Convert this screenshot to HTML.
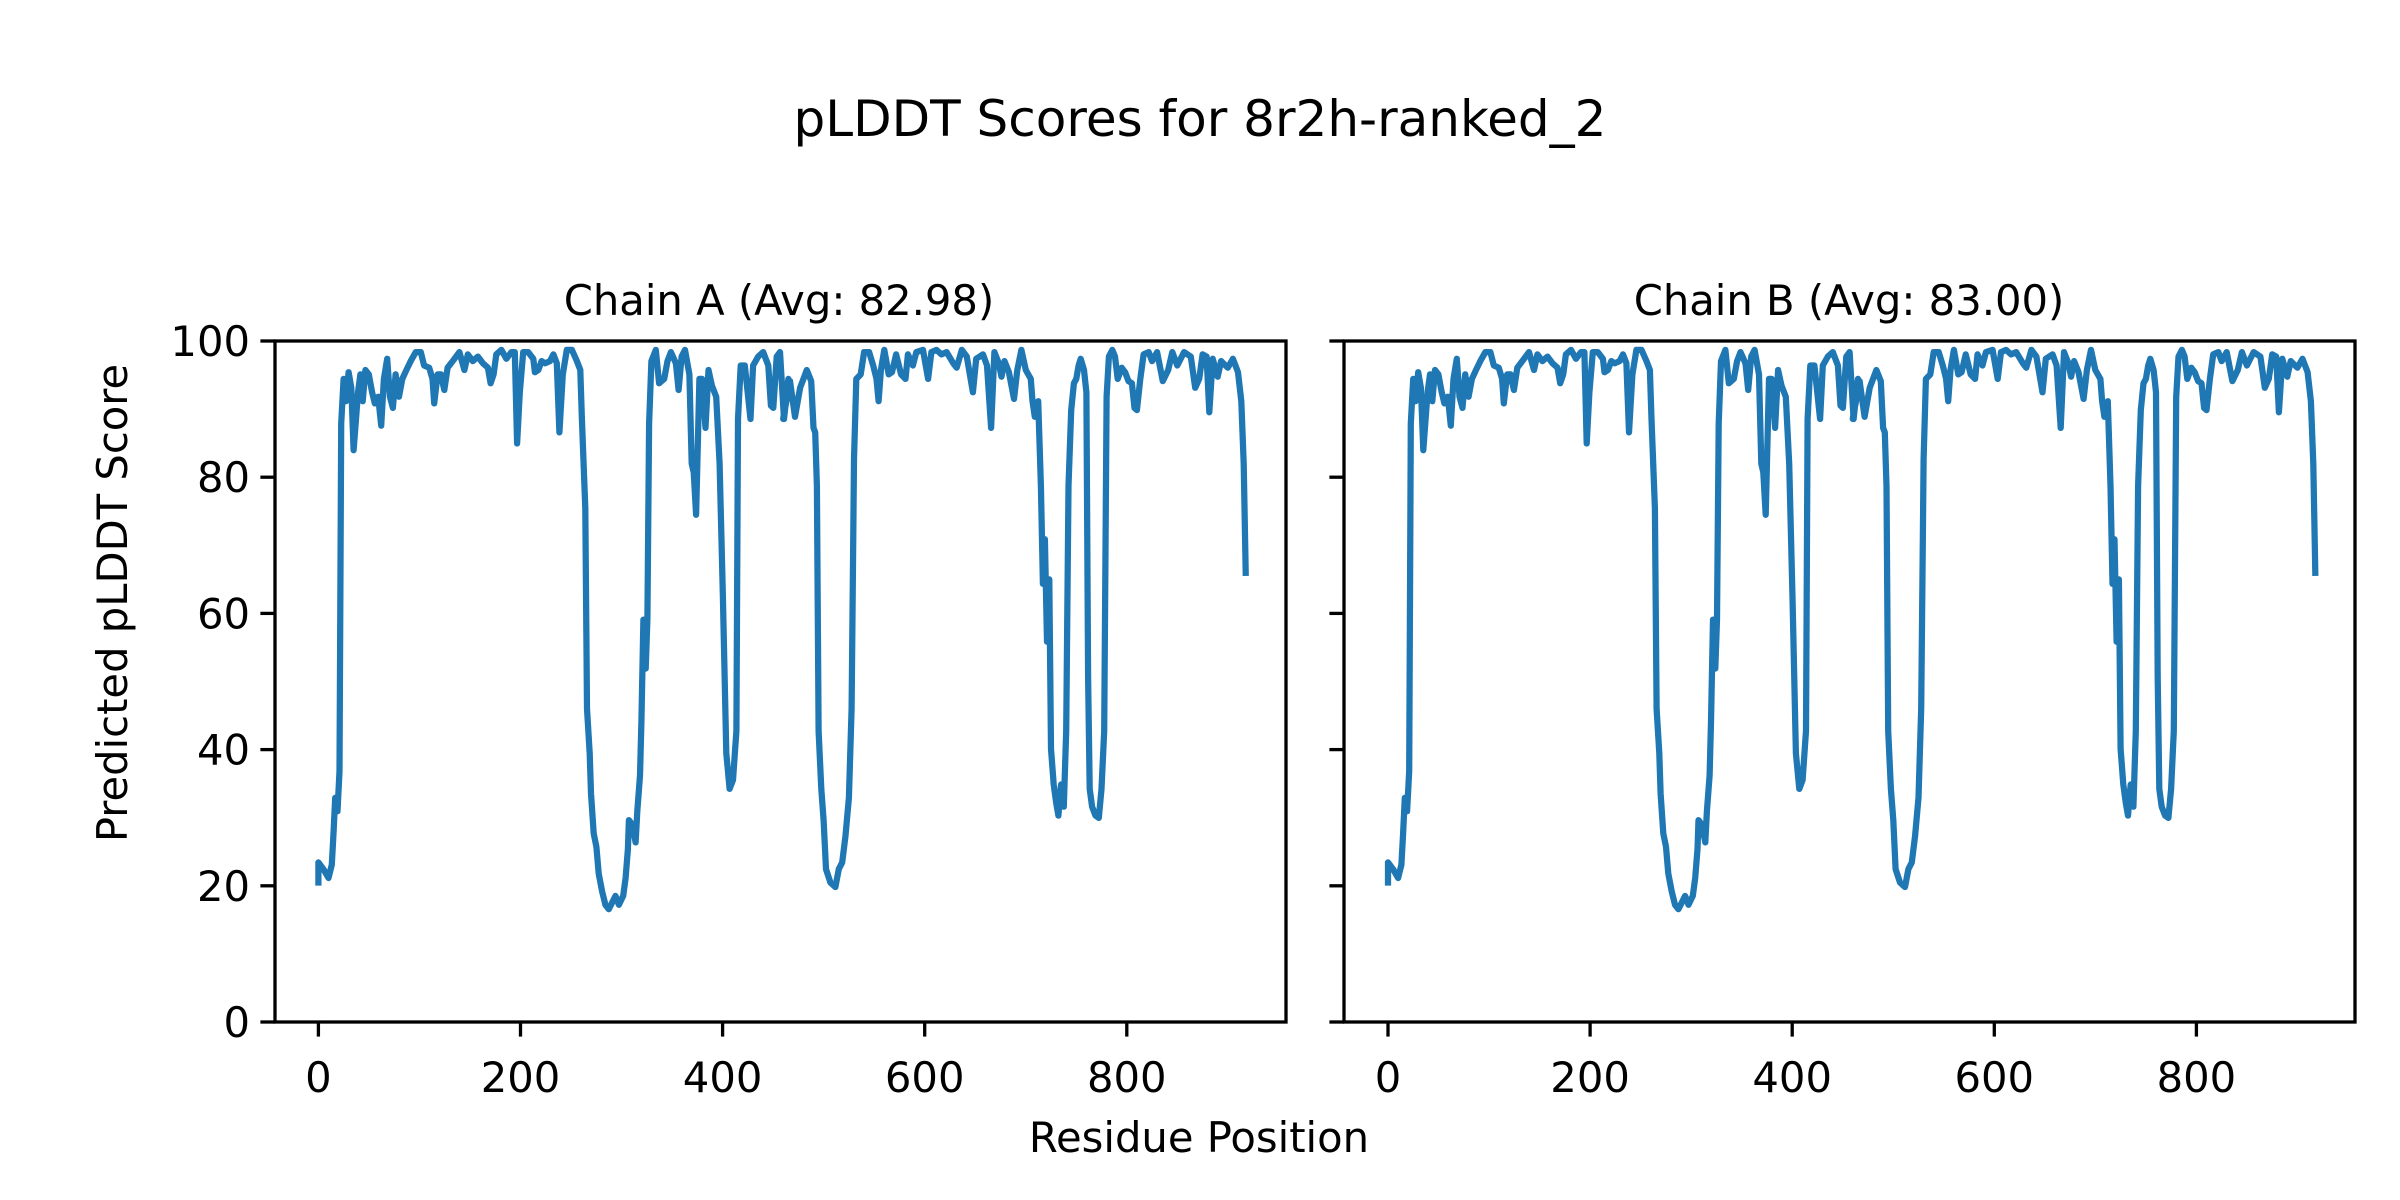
<!DOCTYPE html>
<html><head><meta charset="utf-8"><style>html,body{margin:0;padding:0;background:#fff}svg{display:block}</style></head>
<body>
<svg id="s" xmlns="http://www.w3.org/2000/svg" width="2400" height="1200" viewBox="0 0 2400 1200" font-family="DejaVu Sans, Liberation Sans, sans-serif">
<rect width="2400" height="1200" fill="#fff"/>
<text x="1200" y="136" font-size="50" text-anchor="middle">pLDDT Scores for 8r2h-ranked_2</text>
<text x="779" y="315" font-size="41.7" text-anchor="middle">Chain A (Avg: 82.98)</text>
<text x="1849" y="315" font-size="41.7" text-anchor="middle">Chain B (Avg: 83.00)</text>
<text x="1199" y="1152" font-size="41.7" text-anchor="middle">Residue Position</text>
<text transform="translate(127,603) rotate(-90)" font-size="41.7" text-anchor="middle">Predicted pLDDT Score</text>
<g id="g"></g>
</svg>
<script>
var z1=[[145,1240],[150,1195],[165,1210],[180,1230],[190,1200],[195,1130],[200,1050],[207,1080],[213,990],[218,210],[225,110],[232,160],[240,95],[248,130],[255,270],[262,200],[268,140],[275,100],[282,160],[290,90],[300,100],[310,140],[318,165],[328,150],[337,215],[345,110],[355,65],[363,150],[372,175],[380,100],[390,150],[400,110],[412,90],[425,70],[440,50],[455,50],[465,80],[480,85],[490,110],[495,165],[505,100],[515,100],[525,135],[535,85],[550,70],[570,50],[585,90],[595,55],[610,70],[625,60],[640,75],[655,85],[663,120],[672,100],[680,55],[695,45],[710,65],[725,50],[735,50],[742,255],[750,140],[760,50],[775,50],[790,65],[795,95],[805,90],[815,70],[825,75],[840,70],[850,55],[860,75],[868,230],[878,100],[890,45],[905,45],[920,70],[930,90],[935,200],[945,400],[950,850],[958,950],[962,1040],[970,1130],[978,1160],[985,1220],[995,1260],[1005,1290],[1015,1300],[1025,1285],[1035,1270],[1045,1290],[1058,1270],[1065,1230],[1072,1165],[1075,1100],[1085,1110],[1095,1150],[1100,1080],[1108,1000],[1112,880],[1118,650],[1125,760],[1130,650],[1135,210],[1142,70],[1155,45],[1165,120],[1180,110],[1190,70],[1200,50],[1215,75],[1223,135],[1232,60],[1242,45],[1255,100],[1262,300],[1268,320],[1275,415],[1285,110],[1293,110],[1303,220],[1312,90],[1322,125],[1335,150],[1345,300],[1355,600],[1365,950],[1375,1030],[1385,1010],[1395,900],[1400,200],[1408,80],[1420,80],[1437,200],[1445,80],[1460,60],[1475,50],[1490,80],[1498,170],[1505,175],[1515,60],[1525,50],[1537,200],[1550,110]];
var z2=[[5,200],[25,115],[40,195],[55,130],[75,90],[88,115],[95,220],[100,230],[105,350],[110,900],[118,1030],[125,1100],[132,1210],[145,1240],[160,1250],[170,1210],[180,1195],[190,1135],[200,1050],[208,850],[215,290],[222,110],[235,100],[245,50],[260,50],[272,80],[282,110],[288,160],[295,90],[305,45],[318,100],[328,95],[340,55],[355,100],[368,110],[375,55],[390,80],[400,50],[420,45],[435,110],[445,50],[460,45],[475,55],[490,50],[510,75],[520,85],[535,45],[550,60],[568,140],[578,65],[598,55],[610,80],[622,220],[632,50],[645,75],[653,105],[662,70],[675,95],[690,155],[700,90],[712,45],[725,90],[740,110],[745,160],[752,195],[762,160],[765,230],[770,350],[776,570],[782,470],[788,700],[795,560],[800,940],[808,1020],[815,1060],[822,1090],[830,1020],[838,1070],[845,900],[852,350],[860,180],[868,120],[875,110],[882,80],[888,65],[898,90],[905,140],[910,780],[915,1030],[922,1070],[932,1090],[942,1095],[950,1030],[958,900],[965,150],[972,60],[982,45],[990,60],[998,110],[1010,85],[1020,95],[1030,115],[1040,120],[1048,175],[1055,180],[1065,110],[1075,55],[1090,50],[1100,70],[1115,50],[1132,115],[1148,90],[1160,50],[1175,80],[1195,50],[1215,60],[1228,130],[1240,110],[1250,55],[1262,60],[1270,185],[1280,65],[1295,105],[1305,70],[1325,85],[1340,65],[1355,95],[1365,160],[1372,300],[1378,545]];
var pts=[];
z1.forEach(function(p){pts.push([Math.max(0,(p[0]-150)/3.01),(1553-p[1])/15.28]);});
z2.forEach(function(p){pts.push([600+(p[0]-425)/3,(1553-p[1])/15.28]);});
var g=document.getElementById('g'),h='';
var T=341,B=1022,ky=(B-T)/100,kx=1.0105;
[[275,1286,318.4,true],[1344,2355,1388,false]].forEach(function(a){
 var L=a[0],R=a[1],x0=a[2],d='';
 pts.forEach(function(p,i){d+=(i?'L':'M')+(x0+p[0]*kx).toFixed(1)+' '+(B-p[1]*ky).toFixed(1);});
 h+='<path d="'+d+'" fill="none" stroke="#1f77b4" stroke-width="6.25" stroke-linejoin="round" stroke-linecap="square"/>';
 h+='<rect x="'+L+'" y="'+T+'" width="'+(R-L)+'" height="'+(B-T)+'" fill="none" stroke="#000" stroke-width="3.3"/>';
 for(var v=0;v<=800;v+=200){var x=x0+v*kx;h+='<line x1="'+x+'" y1="'+B+'" x2="'+x+'" y2="'+(B+14.6)+'" stroke="#000" stroke-width="3.3"/><text x="'+x+'" y="'+(B+70)+'" font-size="41.7" text-anchor="middle">'+v+'</text>';}
 for(var v=0;v<=100;v+=20){var y=B-v*ky;h+='<line x1="'+L+'" y1="'+y+'" x2="'+(L-14.6)+'" y2="'+y+'" stroke="#000" stroke-width="3.3"/>';if(a[3])h+='<text x="'+(L-25)+'" y="'+(y+15)+'" font-size="41.7" text-anchor="end">'+v+'</text>';}
});
g.innerHTML=h;
</script>
</body></html>
